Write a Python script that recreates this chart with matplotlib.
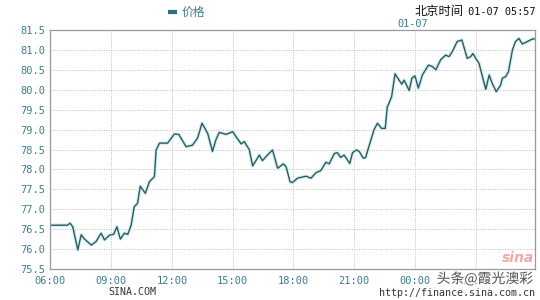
import matplotlib
matplotlib.use("Agg")
import matplotlib.pyplot as plt
import matplotlib.patheffects as pe
from matplotlib.lines import Line2D
import pandas as pd

plt.rcParams['font.family'] = ['DejaVu Sans Mono', 'Noto Sans CJK SC']

# ---- data ----
times = [
    "01-06 06:00", "01-06 06:50", "01-06 06:58", "01-06 07:06", "01-06 07:21", "01-06 07:31",
    "01-06 07:41", "01-06 08:01", "01-06 08:15", "01-06 08:30", "01-06 08:40", "01-06 08:55",
    "01-06 09:07", "01-06 09:17", "01-06 09:27", "01-06 09:39", "01-06 09:49", "01-06 09:59",
    "01-06 10:08", "01-06 10:18", "01-06 10:26", "01-06 10:41", "01-06 10:53", "01-06 11:08",
    "01-06 11:13", "01-06 11:23", "01-06 11:47", "01-06 12:07", "01-06 12:20", "01-06 12:42",
    "01-06 13:01", "01-06 13:16", "01-06 13:29", "01-06 13:46", "01-06 14:00", "01-06 14:10",
    "01-06 14:20", "01-06 14:40", "01-06 14:55", "01-06 15:00", "01-06 15:10", "01-06 15:25",
    "01-06 15:34", "01-06 15:49", "01-06 15:59", "01-06 16:19", "01-06 16:28", "01-06 16:43",
    "01-06 16:58", "01-06 17:13", "01-06 17:30", "01-06 17:38", "01-06 17:50", "01-06 17:57",
    "01-06 18:12", "01-06 18:37", "01-06 18:52", "01-06 19:07", "01-06 19:21", "01-06 19:36",
    "01-06 19:46", "01-06 20:01", "01-06 20:10", "01-06 20:20", "01-06 20:30", "01-06 20:47",
    "01-06 20:55", "01-06 21:07", "01-06 21:15", "01-06 21:27", "01-06 21:34", "01-06 21:44",
    "01-06 21:59", "01-06 22:09", "01-06 22:21", "01-06 22:32", "01-06 22:38", "01-06 22:43",
    "01-06 22:51", "01-06 23:01", "01-06 23:13", "01-06 23:21", "01-06 23:28", "01-06 23:35",
    "01-06 23:43", "01-06 23:51", "01-07 00:00", "01-07 00:10", "01-07 00:22", "01-07 00:40",
    "01-07 00:52", "01-07 01:02", "01-07 01:16", "01-07 01:31", "01-07 01:41", "01-07 01:51",
    "01-07 02:05", "01-07 02:19", "01-07 02:25", "01-07 02:35", "01-07 02:45", "01-07 02:52",
    "01-07 03:00", "01-07 03:10", "01-07 03:20", "01-07 03:30", "01-07 03:40", "01-07 03:49",
    "01-07 04:01", "01-07 04:14", "01-07 04:19", "01-07 04:29", "01-07 04:37", "01-07 04:49",
    "01-07 04:58", "01-07 05:08", "01-07 05:18", "01-07 05:33", "01-07 05:47", "01-07 05:57",
]
prices = [
    76.60, 76.60, 76.65, 76.56, 75.98, 76.36,
    76.25, 76.10, 76.19, 76.40, 76.23, 76.35,
    76.37, 76.56, 76.25, 76.40, 76.37, 76.60,
    77.06, 77.15, 77.58, 77.40, 77.69, 77.82,
    78.49, 78.66, 78.66, 78.89, 78.88, 78.57,
    78.61, 78.79, 79.16, 78.90, 78.45, 78.74,
    78.93, 78.88, 78.93, 78.95, 78.82, 78.64,
    78.70, 78.50, 78.09, 78.36, 78.22, 78.36,
    78.49, 78.03, 78.14, 78.07, 77.69, 77.67,
    77.78, 77.83, 77.78, 77.92, 77.97, 78.18,
    78.14, 78.40, 78.42, 78.30, 78.36, 78.15,
    78.42, 78.49, 78.45, 78.28, 78.30, 78.59,
    79.00, 79.16, 79.03, 79.03, 79.57, 79.66,
    79.83, 80.40, 80.24, 80.14, 80.24, 80.12,
    79.98, 80.29, 80.35, 80.04, 80.37, 80.62,
    80.58, 80.50, 80.75, 80.87, 80.83, 80.96,
    81.21, 81.25, 81.08, 80.79, 80.83, 80.91,
    80.79, 80.66, 80.33, 80.01, 80.37, 80.16,
    79.95, 80.12, 80.29, 80.33, 80.45, 81.00,
    81.21, 81.29, 81.15, 81.21, 81.27, 81.28,
]
y_ticks = [75.5, 76.0, 76.5, 77.0, 77.5, 78.0, 78.5, 79.0, 79.5, 80.0, 80.5, 81.0, 81.5]
x_tick_labels = ["06:00", "09:00", "12:00", "15:00", "18:00", "21:00", "00:00", "03:00"]
x_tick_times = ["01-06 06:00", "01-06 09:00", "01-06 12:00", "01-06 15:00",
                "01-06 18:00", "01-06 21:00", "01-07 00:00", "01-07 03:00"]

def to_dt(s):
    return pd.to_datetime("2021-" + s, format="%Y-%m-%d %H:%M")

t = [to_dt(s) for s in times]
xt = [to_dt(s) for s in x_tick_times]

teal = "#3d7f8c"
line_c = "#2c5a5e"

fig = plt.figure(figsize=(5.4, 3.0), dpi=100)
ax = fig.add_axes([0.0935, 0.1033, 0.898, 0.7967])

ax.plot(t, prices, color="#d3f0f2", lw=2.6, solid_joinstyle="round")
ax.plot(t, prices, color=line_c, lw=1.0)

ax.set_xlim(to_dt("01-06 06:00"), to_dt("01-07 05:57"))
ax.set_ylim(75.5, 81.5)
ax.set_yticks(y_ticks)
ax.set_yticklabels([f"{v:.1f}" for v in y_ticks])
ax.set_xticks(xt)
ax.set_xticklabels(x_tick_labels)
ax.tick_params(axis="both", length=0, labelsize=7.5, labelcolor=teal)
ax.tick_params(axis="y", pad=4)
ax.tick_params(axis="x", pad=5)

ax.grid(True, color="#bdbdbd", linestyle=(0, (1, 1.5)), linewidth=0.7)
for s in ax.spines.values():
    s.set_color("#9a9a9a")
    s.set_linewidth(0.9)

# header legend
fig.add_artist(Line2D([168 / 540, 177 / 540], [1 - 12 / 300, 1 - 12 / 300],
                      transform=fig.transFigure, color="#2f6f7c", lw=3.0,
                      solid_capstyle="butt"))
fig.text(182 / 540, 1 - 12 / 300, "价格", color=teal, fontsize=8.5,
         va="center", ha="left", family=["Noto Sans CJK SC"])
fig.text(464 / 540, 1 - 12 / 300, "北京时间", color="#111111", fontsize=8.8,
         va="center", ha="right", family=["Noto Sans CJK SC"])
fig.text(535 / 540, 1 - 12 / 300, " 01-07 05:57", color="#111111", fontsize=7.4,
         va="center", ha="right")
fig.text(413 / 540, 1 - 24 / 300, "01-07", color=teal, fontsize=7.4, va="center", ha="center")

# footer
fig.text(108 / 540, 1 - 292 / 300, "SINA.COM", color="#333333", fontsize=7.2, va="center", ha="left")
fig.text(535 / 540, 1 - 293 / 300, "http://finance.sina.com.cn", color="#333333", fontsize=7.2,
         va="center", ha="right")
fig.text(533 / 540, 1 - 279 / 300, "头条@霞光澳彩", color="#444444", fontsize=10, alpha=0.9,
         va="center", ha="right", style="italic", family=["Noto Sans CJK SC"],
         path_effects=[pe.withStroke(linewidth=2, foreground="white")], zorder=10)
fig.text(534 / 540, 1 - 258 / 300, "sina", color="#f0a8a8", fontsize=10, fontweight="bold",
         style="italic", va="center", ha="right", family=["DejaVu Sans"])

fig.savefig("out.png", dpi=100)
